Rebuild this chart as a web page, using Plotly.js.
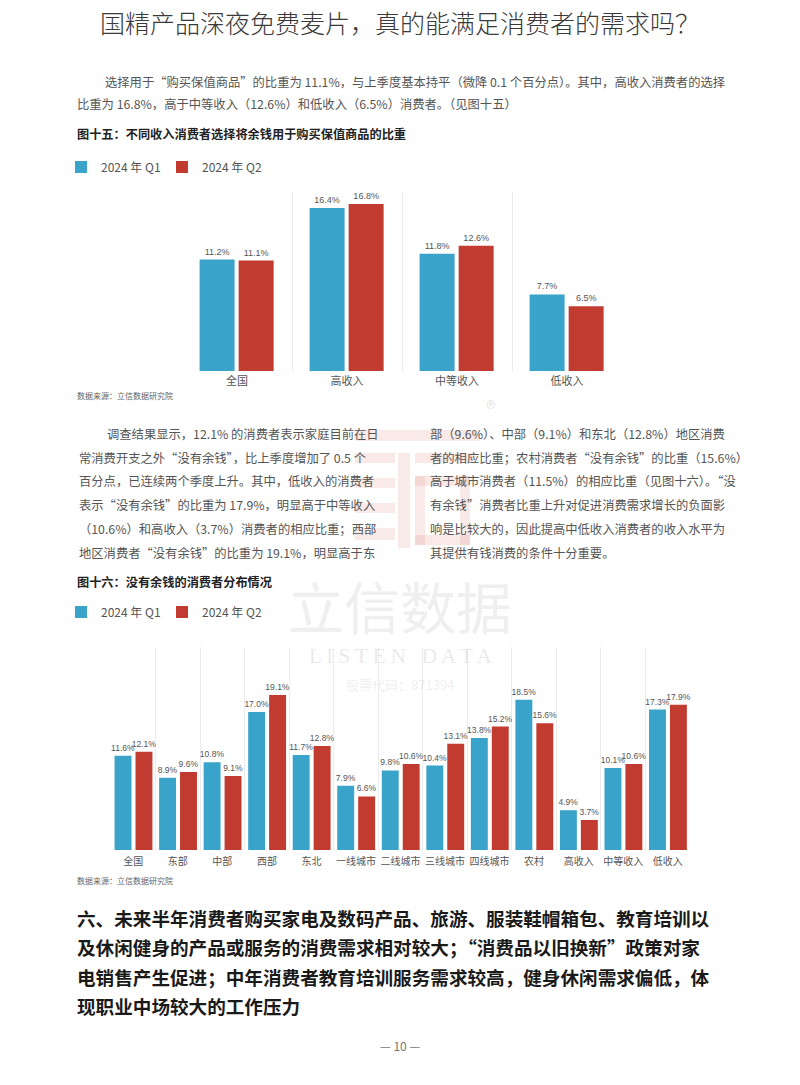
<!DOCTYPE html>
<html><head><meta charset="utf-8">
<script src="https://cdn.plot.ly/plotly-3.0.1.min.js"></script>
<style>html,body{margin:0;padding:0;background:#fff;}#chart{width:800px;height:1085px;}</style>
</head><body><div id="chart"></div>
<script>
// ---------- data ----------
const seriesNames = ['2024 年 Q1', '2024 年 Q2'];
const incomeCats = ['全国', '高收入', '中等收入', '低收入'];
const incomeQ1 = [11.2, 16.4, 11.8, 7.7];
const incomeQ2 = [11.1, 16.8, 12.6, 6.5];
const groupCats = ['全国', '东部', '中部', '西部', '东北', '一线城市', '二线城市', '三线城市', '四线城市', '农村', '高收入', '中等收入', '低收入'];
const groupQ1 = [11.6, 8.9, 10.8, 17.0, 11.7, 7.9, 9.8, 10.4, 13.8, 18.5, 4.9, 10.1, 17.3];
const groupQ2 = [12.1, 9.6, 9.1, 19.1, 12.8, 6.6, 10.6, 13.1, 15.2, 15.6, 3.7, 10.6, 17.9];

// ---------- page text ----------
const pageTitle = '国精产品深夜免费麦片，真的能满足消费者的需求吗？';
const para1 = [
  '选择用于“购买保值商品”的比重为 11.1%，与上季度基本持平（微降 0.1 个百分点）。其中，高收入消费者的选择',
  '比重为 16.8%，高于中等收入（12.6%）和低收入（6.5%）消费者。（见图十五）'
];
const fig15Title = '图十五：不同收入消费者选择将余钱用于购买保值商品的比重';
const leftCol = [
  '调查结果显示，12.1% 的消费者表示家庭目前在日',
  '常消费开支之外“没有余钱”，比上季度增加了 0.5 个',
  '百分点，已连续两个季度上升。其中，低收入的消费者',
  '表示“没有余钱”的比重为 17.9%，明显高于中等收入',
  '（10.6%）和高收入（3.7%）消费者的相应比重；西部',
  '地区消费者“没有余钱”的比重为 19.1%，明显高于东'
];
const rightCol = [
  '部（9.6%）、中部（9.1%）和东北（12.8%）地区消费',
  '者的相应比重；农村消费者“没有余钱”的比重（15.6%）',
  '高于城市消费者（11.5%）的相应比重（见图十六）。“没',
  '有余钱”消费者比重上升对促进消费需求增长的负面影',
  '响是比较大的，因此提高中低收入消费者的收入水平为',
  '其提供有钱消费的条件十分重要。'
];
const fig16Title = '图十六：没有余钱的消费者分布情况';
const sourceNote = '数据来源：立信数据研究院';
const section6 = [
  '六、未来半年消费者购买家电及数码产品、旅游、服装鞋帽箱包、教育培训以',
  '及休闲健身的产品或服务的消费需求相对较大；“消费品以旧换新”政策对家',
  '电销售产生促进；中年消费者教育培训服务需求较高，健身休闲需求偏低，体',
  '现职业中场较大的工作压力'
];
const pageNo = '— 10 —';
const wmCn = '立信数据';
const wmEn = 'L I S T E N   D A T A';
const wmCode = '股票代码：871394';

// ---------- styling ----------
const W = 800, H = 1085;
const BLUE = '#3aa3ca', RED = '#c23b30';
const CJK = '"Noto Sans CJK SC", "Noto Sans", sans-serif';
const px = x => x / W;
const py = y => 1 - y / H;

const annotations = [];
function txt(text, x, y, size, color, extra) {
  annotations.push(Object.assign({
    text: text, xref: 'paper', yref: 'paper', x: px(x), y: py(y),
    xanchor: 'left', yanchor: 'middle', showarrow: false,
    font: {family: CJK, size: size, color: color}
  }, extra || {}));
}

// watermark
txt(wmCn, 400, 604, 56, 'rgba(175,175,175,0.2)', {xanchor: 'center'});
txt(wmEn, 400, 656, 21, 'rgba(170,170,170,0.25)', {xanchor: 'center', font: {family: '"Liberation Serif", serif', size: 21, color: 'rgba(170,170,170,0.25)'}});
txt(wmCode, 400, 684, 13, 'rgba(170,170,170,0.2)', {xanchor: 'center'});
txt('®', 490, 407, 20, 'rgba(160,160,160,0.3)', {xanchor: 'center'});

txt(pageTitle, 400, 22, 25, '#3a3a3a', {xanchor: 'center', font: {family: CJK, size: 25, color: '#3a3a3a', weight: 300}});
para1.forEach((l, i) => txt(l, i === 0 ? 103 : 75, 82 + i * 22, 12.3, '#555'));
txt('<b>' + fig15Title + '</b>', 75, 134, 12.2, '#222');
txt(sourceNote, 75, 395, 8, '#666');
leftCol.forEach((l, i) => txt(l, i === 0 ? 105 : 77, 434 + i * 23.7, 12.3, '#555'));
rightCol.forEach((l, i) => txt(l, 428, 434 + i * 23.7, 12.3, '#555'));
txt('<b>' + fig16Title + '</b>', 75, 582, 12.2, '#222');
txt(sourceNote, 75, 880, 8, '#666');
section6.forEach((l, i) => txt(l, 75, 917 + i * 29.5, 18.6, '#1a1a1a', {font: {family: CJK, size: 18.6, color: '#1a1a1a', weight: 600}}));
txt(pageNo, 400, 1045, 12, '#777', {xanchor: 'center'});

// faint logo blocks behind the text
const logoFill = 'rgba(205,90,80,0.13)';
const logoRects = [
  [355, 430, 480, 441],
  [355, 453, 395, 463], [355, 478, 395, 488], [355, 503, 395, 513], [355, 528, 395, 540],
  [398, 453, 410, 548],
  [415, 453, 475, 463],
  [415, 476, 470, 486], [415, 535, 470, 545], [415, 476, 425, 545], [460, 476, 470, 545]
];
const shapes = logoRects.map(r => ({
  type: 'rect', xref: 'paper', yref: 'paper', layer: 'below',
  x0: px(r[0]), x1: px(r[2]), y0: py(r[3]), y1: py(r[1]),
  fillcolor: logoFill, line: {width: 0}
}));

function bars(cats, vals, i, ax, leg, w, off, fs) {
  return {
    type: 'bar', x: cats, y: vals, name: seriesNames[i],
    xaxis: 'x' + ax, yaxis: 'y' + ax, legend: leg,
    marker: {color: i === 0 ? BLUE : RED},
    width: w, offset: off,
    texttemplate: '%{y:.1f}%', textposition: 'outside', constraintext: 'none',
    textfont: {family: '"Liberation Sans", Arial, sans-serif', size: fs, color: '#555'},
    cliponaxis: false, hoverinfo: 'skip'
  };
}

const data = [
  bars(incomeCats, incomeQ1, 0, '', 'legend', 0.318, -0.34, 9),
  bars(incomeCats, incomeQ2, 1, '', 'legend', 0.318, 0.015, 9),
  bars(groupCats, groupQ1, 0, '2', 'legend2', 0.38, -0.42, 8.5),
  bars(groupCats, groupQ2, 1, '2', 'legend2', 0.38, 0.05, 8.5)
];

function xax(domain, anchor, fs, standoff) {
  return {
    domain: domain, anchor: anchor, type: 'category', tickson: 'boundaries',
    showgrid: true, gridcolor: '#ececec', gridwidth: 1, ticks: '', showline: false,
    zeroline: false, fixedrange: true, tickangle: 0, automargin: false,
    ticklabelstandoff: standoff,
    tickfont: {family: CJK, size: fs, color: '#555'}
  };
}
function yax(domain, anchor, range) {
  return {
    domain: domain, anchor: anchor, range: range, showgrid: false, zeroline: false,
    showticklabels: false, showline: false, ticks: '', fixedrange: true
  };
}
function leg(y) {
  return {
    orientation: 'h', x: px(61), y: py(y), xanchor: 'left', yanchor: 'middle',
    font: {family: CJK, size: 12, color: '#555'}, bgcolor: 'rgba(0,0,0,0)',
    borderwidth: 0, itemclick: false, itemdoubleclick: false,
    entrywidth: 56, entrywidthmode: 'pixels'
  };
}

const layout = {
  width: W, height: H, margin: {l: 0, r: 0, t: 0, b: 0},
  paper_bgcolor: '#fff', plot_bgcolor: 'rgba(0,0,0,0)',
  barmode: 'group', showlegend: true,
  xaxis: xax([px(182), px(622)], 'y', 11, 2),
  yaxis: yax([py(371), py(192)], 'x', [0, 18]),
  xaxis2: xax([px(111), px(690)], 'y2', 10, 4),
  yaxis2: yax([py(850), py(647)], 'x2', [0, 25]),
  legend: leg(167), legend2: leg(612),
  annotations: annotations, shapes: shapes
};

Plotly.newPlot('chart', data, layout, {displayModeBar: false, staticPlot: true});
</script></body></html>
